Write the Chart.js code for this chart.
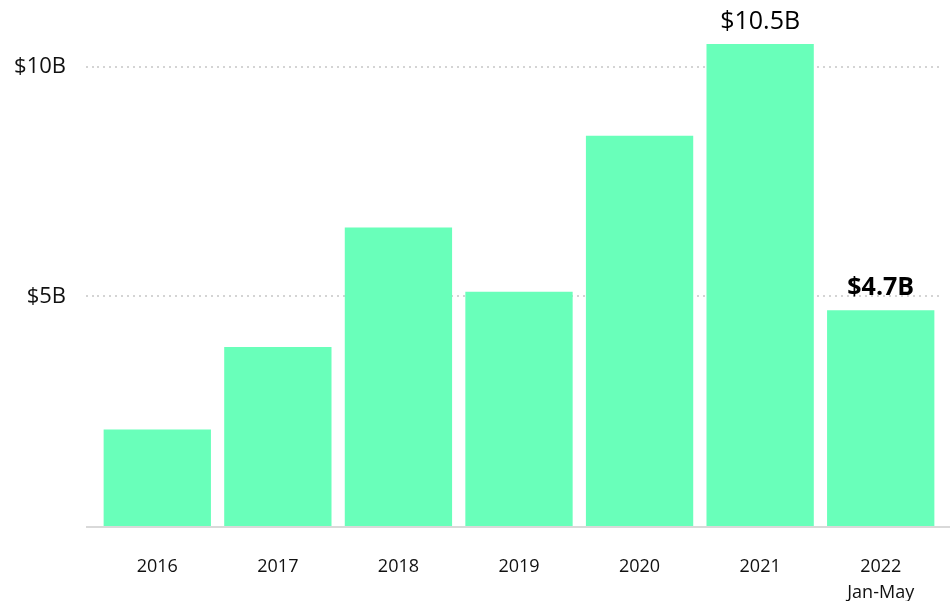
<!DOCTYPE html>
<html>
<head>
<meta charset="utf-8">
<script src="https://cdn.jsdelivr.net/npm/chart.js@4.4.1/dist/chart.umd.min.js"></script>
<style>
  body { margin: 0; background: #fff; }
  canvas { display: block; }
</style>
</head>
<body>
<canvas id="chart" width="950" height="601"></canvas>
<script>
const years = [["2016"], ["2017"], ["2018"], ["2019"], ["2020"], ["2021"], ["2022", "Jan-May"]];
const funding = [2.1, 3.9, 6.5, 5.1, 8.5, 10.5, 4.7]; // $B
const valueLabels = ["", "", "", "", "", "$10.5B", "$4.7B"];
const boldLabels = [false, false, false, false, false, false, true];
const yTicks = [5, 10];
const yTickLabels = {5: "$5B", 10: "$10B"};

const barColor = "#69ffba";
const fontFamily = "'Open Sans', sans-serif";

// baseline that runs a bit past the plot on both sides
const baseline = {
    id: "baseline",
    afterDatasetsDraw(chart) {
        const c = chart.ctx;
        const y = chart.scales.y.getPixelForValue(0);
        c.save();
        c.strokeStyle = "#d9d9d9";
        c.lineWidth = 2;
        c.beginPath();
        c.moveTo(chart.chartArea.left - 11, y + 1);
        c.lineTo(chart.width, y + 1);
        c.stroke();
        c.restore();
    }
};

// value labels above selected bars
const barLabels = {
    id: "barLabels",
    afterDatasetsDraw(chart) {
        const c = chart.ctx;
        const meta = chart.getDatasetMeta(0);
        c.save();
        c.textAlign = "center";
        c.textBaseline = "middle";
        c.fillStyle = "#000";
        meta.data.forEach((bar, i) => {
            if (!valueLabels[i]) return;
            c.font = (boldLabels[i] ? "bold " : "") + "25px " + fontFamily;
            c.fillText(valueLabels[i], bar.x, bar.y - 22);
        });
        c.restore();
    }
};

const ctx = document.getElementById("chart");
new Chart(ctx, {
    type: "bar",
    data: {
        labels: years,
        datasets: [{
            data: funding,
            backgroundColor: barColor,
            borderWidth: 0,
            categoryPercentage: 1,
            barPercentage: 0.89
        }]
    },
    options: {
        responsive: false,
        animation: false,
        layout: { padding: { top: 21, right: 9, left: 0, bottom: 0 } },
        plugins: {
            legend: { display: false },
            tooltip: { enabled: false }
        },
        scales: {
            x: {
                grid: { display: false, drawTicks: false },
                border: { display: false },
                ticks: {
                    color: "#111",
                    padding: 28,
                    maxRotation: 0,
                    font: { family: fontFamily, size: 18, lineHeight: 1.45 }
                },
                afterFit(scale) {
                    scale.height = 75;
                    scale.paddingLeft = 0;
                    scale.paddingRight = 0;
                }
            },
            y: {
                min: 0,
                max: 11,
                z: 1,
                afterBuildTicks(scale) {
                    scale.ticks = yTicks.map(v => ({ value: v }));
                },
                grid: {
                    color: "#d4d4d4",
                    lineWidth: 2,
                    drawTicks: true,
                    tickLength: 11,
                    tickColor: "#d4d4d4",
                    tickBorderDash: [2, 4],
                    tickWidth: 2
                },
                border: { display: false, dash: [2, 4] },
                ticks: {
                    color: "#111",
                    padding: 20,
                    font: { family: fontFamily, size: 22 },
                    callback: v => yTickLabels[v] || ""
                },
                afterFit(scale) {
                    scale.width = 97;
                    scale.paddingTop = 0;
                    scale.paddingBottom = 0;
                }
            }
        }
    },
    plugins: [baseline, barLabels]
});
</script>
</body>
</html>
